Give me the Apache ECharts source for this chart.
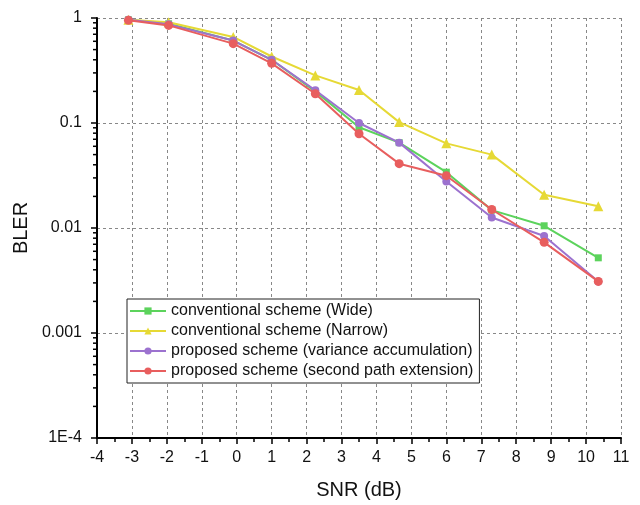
<!DOCTYPE html>
<html><head><meta charset="utf-8">
<script src="https://cdn.jsdelivr.net/npm/echarts@6/dist/echarts.min.js"></script>
<style>html,body{margin:0;padding:0;background:#fff}#c{width:640px;height:505px}</style>
</head><body><div id="c"></div>
<script>
const snr = [-3.1, -1.95, -0.1, 1.0, 2.25, 3.5, 4.65, 6.0, 7.3, 8.8, 10.35];
const wide = [0.96, 0.88, 0.61, 0.40, 0.20, 0.091, 0.065, 0.034, 0.0148, 0.0105, 0.0052];
const narrow = [0.96, 0.91, 0.66, 0.43, 0.284, 0.206, 0.102, 0.064, 0.050, 0.0207, 0.0161];
const variance = [0.96, 0.87, 0.61, 0.40, 0.205, 0.100, 0.065, 0.0277, 0.0126, 0.0084, 0.0031];
const secondPath = [0.95, 0.85, 0.57, 0.37, 0.19, 0.079, 0.041, 0.0315, 0.0150, 0.0073, 0.0031];
const seriesNames = ['conventional scheme (Wide)', 'conventional scheme (Narrow)', 'proposed scheme (variance accumulation)', 'proposed scheme (second path extension)'];
const yTickLabels = {'-4': '1E-4', '-3': '0.001', '-2': '0.01', '-1': '0.1', '0': '1'};
const minorY = [];
for (let e = -4; e < 0; e++) for (let m = 2; m <= 9; m++) minorY.push(+(m * Math.pow(10, e)).toPrecision(3));

const font = 'Liberation Sans, Arial, sans-serif';
const colors = ['#5CD35C', '#E6D935', '#9C72CF', '#E85E5E'];
const symbols = ['rect', 'triangle', 'circle', 'circle'];
const sizes = [7, 10, 8, 9];
const datas = [wide, narrow, variance, secondPath];

const series = datas.map((d, i) => ({
  name: seriesNames[i], type: 'line', data: d.map((v, j) => [snr[j], v]),
  symbol: symbols[i], symbolSize: sizes[i], showSymbol: true,
  lineStyle: {color: colors[i], width: 2}, itemStyle: {color: colors[i]},
  z: 3 + i, animation: false
}));
series.push({
  type: 'custom', data: minorY.map(v => [-4, v]), silent: true, animation: false, clip: false,
  renderItem: (params, api) => {
    const p = api.coord([api.value(0), api.value(1)]);
    return {type: 'line', shape: {x1: p[0] - 4, y1: p[1], x2: p[0], y2: p[1]}, style: {stroke: '#000', lineWidth: 1.5}};
  }
});

const chart = echarts.init(document.getElementById('c'), null, {renderer: 'canvas'});
chart.setOption({
  animation: false,
  backgroundColor: '#fff',
  grid: {left: 97, right: 19, top: 18, bottom: 65, containLabel: false},
  legend: {
    data: seriesNames, orient: 'vertical', left: 127, top: 299,
    backgroundColor: '#fff', borderColor: '#222', borderWidth: 1, borderRadius: 0,
    padding: [4, 6, 4, 2], itemWidth: 36, itemHeight: 9, itemGap: 4,
    textStyle: {fontFamily: font, fontSize: 16, lineHeight: 16, color: '#111', padding: [0, 0, 0, 0]},
    z: 10
  },
  xAxis: {
    type: 'value', min: -4, max: 11, interval: 1,
    name: 'SNR (dB)', nameLocation: 'middle', nameGap: 42,
    nameTextStyle: {fontFamily: font, fontSize: 20, color: '#111'},
    axisLine: {onZero: false, lineStyle: {color: '#000', width: 2}},
    axisTick: {inside: false, length: 6, lineStyle: {color: '#000', width: 1.5}},
    minorTick: {show: true, splitNumber: 2, length: 4, lineStyle: {color: '#000', width: 1.5}},
    axisLabel: {fontFamily: font, fontSize: 16, color: '#111', margin: 12},
    splitLine: {show: true, lineStyle: {color: '#888', type: [3, 3], width: 1}}
  },
  yAxis: {
    type: 'log', logBase: 10, min: 1e-4, max: 1,
    name: 'BLER', nameLocation: 'middle', nameGap: 66, nameRotate: 90,
    nameTextStyle: {fontFamily: font, fontSize: 20, color: '#111'},
    axisLine: {show: true, onZero: false, lineStyle: {color: '#000', width: 2}},
    axisTick: {show: true, inside: false, length: 6, lineStyle: {color: '#000', width: 1.5}},
    axisLabel: {fontFamily: font, fontSize: 16, color: '#111', margin: 15,
      formatter: v => { const k = String(Math.round(Math.log10(v))); return yTickLabels[k] !== undefined ? yTickLabels[k] : ''; }},
    splitLine: {show: true, lineStyle: {color: '#888', type: [3, 3], width: 1}}
  },
  series: series
});
</script></body></html>
